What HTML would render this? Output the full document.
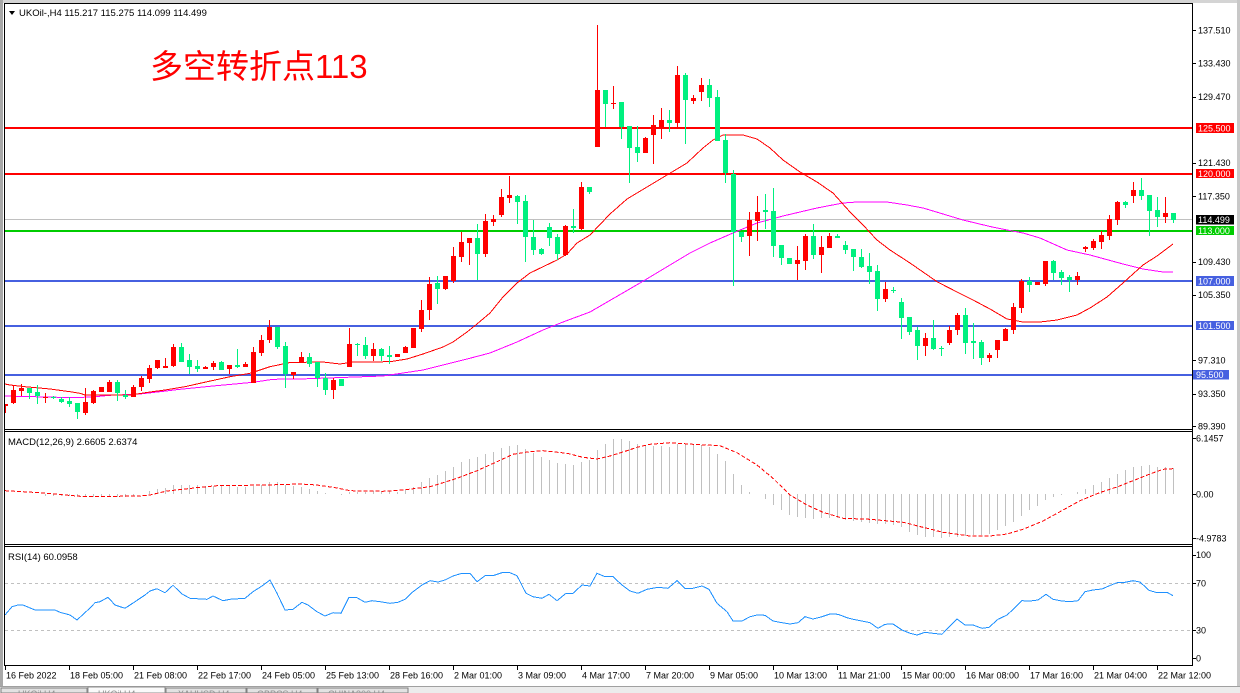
<!DOCTYPE html>
<html><head><meta charset="utf-8"><style>
html,body{margin:0;padding:0;background:#fff;}
svg{display:block;font-family:"Liberation Sans","Noto Sans CJK SC",sans-serif;}
</style></head><body>
<svg id="s" width="1240" height="693" viewBox="0 0 1240 693" xmlns="http://www.w3.org/2000/svg">
<rect x="0" y="0" width="1240" height="693" fill="#fff"/>
<rect x="0" y="0" width="1240" height="3" fill="#d4d4d4"/>
<rect x="0" y="0" width="3" height="693" fill="#a8a8a8"/>
<rect x="1237" y="0" width="3" height="693" fill="#c8c8c8"/>
<defs><clipPath id="cp"><rect x="5" y="4" width="1187" height="425"/></clipPath></defs>
<g id="main" clip-path="url(#cp)" shape-rendering="crispEdges">
<rect x="5" y="219" width="1187" height="1" fill="#c0c0c0"/>
<rect x="5" y="127" width="1187" height="2" fill="#ff0000"/>
<rect x="5" y="173" width="1187" height="2" fill="#ff0000"/>
<rect x="5" y="230" width="1187" height="2" fill="#00cc00"/>
<rect x="5" y="280" width="1187" height="2" fill="#4660e0"/>
<rect x="5" y="325" width="1187" height="2" fill="#4660e0"/>
<rect x="5" y="374" width="1187" height="2" fill="#4660e0"/>
<polyline fill="none" stroke="#ff00ff" stroke-width="1" points="5,396 75,397.7 95,396.7 110,395.3 140,394 160,391.7 180,389.3 213,386 253,382.3 273,379.3 300,379 383,376 403,373 423,370 443,365 467,359 490,353 517,342 543,330 563,322 590,312 640,283 690,253 710,243 733,233 757,223 783,216 817,208 843,203 857,202 887,202 907,205 923,208 943,214 963,220 990,226.5 1007,230 1023,233 1040,238 1067,250 1090,255 1123,264 1143,269 1163,272 1173,272"/>
<polyline fill="none" stroke="#ff0000" stroke-width="1" points="5,384 10,385 25,386.7 50,389 70,391.7 80,393.3 85,395 130,395 135,394.3 150,392 165,390 175,388.3 185,386.7 200,383.3 230,376.7 250,373.3 270,366.7 290,362.5 323,362 340,364 353,362 390,361.7 407,359 423,354 443,347 453,342 467,332 477,324 490,313 503,297 517,283 530,273 557,260 567,254 577,243 590,235 610,214 627,199 647,187 667,175 687,163 703,148 713,140 723,135 743,135 757,139 770,148 783,160 800,172 817,182 833,193 850,212 863,225 877,240 890,250 910,263 923,272 937,281.7 957,292 973,300 990,309 1007,319 1023,322 1040,322 1057,320 1077,315 1090,308 1107,297 1123,283 1143,265 1157,256 1173,244"/>
<g id="candles"></g>
</g>
<text x="150" y="78" font-size="33" fill="#ff0000" font-family="'Liberation Sans','Noto Sans CJK SC',sans-serif">多空转折点113</text>
<polygon points="9,11 15,11 12,15" fill="#000"/>
<text x="19" y="16" font-size="9.5" fill="#000">UKOil-,H4  115.217 115.275 114.099 114.499</text>

<g id="macd" shape-rendering="crispEdges"><g id="bars"></g>
<polyline fill="none" stroke="#ff0000" stroke-width="1" stroke-dasharray="4,2" points="5,490.7 40,492.7 65,495 85,496.7 140,496 150,495 167,491 183,489.3 200,487.3 217,485.7 267,485 300,484 317,485 337,488 350,490.7 383,491.3 403,490 430,486.7 443,482.7 457,478.3 477,470.7 497,461.7 513,454.3 527,452 543,450.7 567,453.3 583,457.3 597,459 610,456 623,452 637,447.3 650,444.3 670,442.7 693,444.3 720,445.7 737,452.7 757,465 773,478.3 790,495 807,505 823,512.3 843,518.3 870,519.3 903,522.3 927,528.3 943,532.3 970,536 990,536 1007,534 1023,529.3 1043,521 1060,511.7 1080,500.7 1100,492.5 1117,487 1133,480.7 1150,474 1163,469.3 1173,468.7"/>
</g>
<text x="8" y="445" font-size="9.5" fill="#000">MACD(12,26,9) 2.6605 2.6374</text>

<g shape-rendering="crispEdges">
<line x1="5" y1="583.5" x2="1192" y2="583.5" stroke="#c0c0c0" stroke-dasharray="3,3"/>
<line x1="5" y1="630.5" x2="1192" y2="630.5" stroke="#c0c0c0" stroke-dasharray="3,3"/>
<polyline fill="none" stroke="#1e90ff" stroke-width="1" points="5,615 12,606.7 18,605 23,605 35,610 55,610 60,612.3 70,615 77,620 90,608 95,602.7 100,601.7 108,597.3 115,605 125,608.3 135,601.7 145,595 150,591 157,588.7 165,592.7 173,585.3 182,594 190,598.3 207,599.3 213,596 223,600.7 230,599.3 245,598.3 253,591.7 262,586 270,580 277,593.3 285,610 293,609.3 302,602.3 308,605 317,611.7 325,616 333,612.7 341,613.3 349,597.3 357,597.7 365,602.3 372,600.7 380,601.7 390,603.3 398,602.3 405,599.3 413,591.7 422,585 430,580.7 438,582 445,580 453,576 462,573.3 470,573.3 477,581.7 485,575.7 493,575.7 502,572.7 510,572.7 517,575.7 526,593.3 533,596.7 542,598.3 549,594.3 557,600.7 566,593.3 573,593.3 582,585 590,586 597,573.3 605,576.7 613,576.7 622,585 630,591 638,593.3 647,589.3 658,587.3 668,588.3 677,580.7 685,588.3 693,588.3 702,586 709,589.3 717,603.3 727,611.7 733,621 742,621 750,616.7 757,615 765,615.3 773,621 782,622.7 790,624 798,622.7 805,616.7 813,619 822,616.7 830,614 838,614.3 847,617.7 853,619.3 862,621 870,622.7 878,628.3 885,624.3 893,624 902,630 910,633.3 917,635 925,632.3 933,633.3 942,634.3 950,626 957,619 965,625 973,625 982,628.3 989,627.3 998,619.3 1007,615 1015,607.7 1022,600.7 1030,601 1038,600 1046,594.3 1053,599.3 1062,601 1070,601.7 1078,600.7 1085,591.7 1093,590 1102,589 1110,585.5 1117,582.7 1125,582.3 1133,580.7 1140,582 1149,590.3 1157,592.7 1167,592.3 1173,595.7"/>
</g>
<text x="8" y="560" font-size="9.5" fill="#000">RSI(14) 60.0958</text>

<g shape-rendering="crispEdges" fill="#000">
<rect x="4" y="3" width="1189" height="1"/>
<rect x="4" y="3" width="1" height="663"/>
<rect x="1192" y="3" width="1" height="663"/>
<rect x="4" y="429" width="1189" height="1"/>
<rect x="4" y="431" width="1189" height="1"/>
<rect x="4" y="544" width="1189" height="1"/>
<rect x="4" y="546" width="1189" height="1"/>
<rect x="4" y="665" width="1189" height="1"/>
</g>
<g id="ticks" shape-rendering="crispEdges"></g>
<g font-size="9" fill="#000" id="axis"></g>

<g shape-rendering="crispEdges">
<rect x="1196" y="123" width="38" height="10" fill="#ff0000"/>
<rect x="1196" y="169" width="38" height="9" fill="#ff0000"/>
<rect x="1196" y="215" width="38" height="9.5" fill="#000"/>
<rect x="1196" y="226" width="38" height="9" fill="#00cc00"/>
<rect x="1196" y="276" width="38" height="10" fill="#4660e0"/>
<rect x="1196" y="321" width="38" height="9" fill="#4660e0"/>
<rect x="1193" y="370" width="36" height="9.5" fill="#4660e0"/>
</g>
<g font-size="9" fill="#fff">
<text x="1198" y="131.5">125.500</text>
<text x="1198" y="177">120.000</text>
<text x="1198" y="223">114.499</text>
<text x="1198" y="234">113.000</text>
<text x="1198" y="284.5">107.000</text>
<text x="1198" y="329">101.500</text>
<text x="1196" y="378">95.500</text>
</g>

<g shape-rendering="crispEdges">
<rect x="0" y="686" width="1240" height="1" fill="#a0a0a0"/>
<rect x="0" y="687" width="1240" height="6" fill="#ececec"/>
<rect x="1" y="688" width="86" height="5" fill="#e2e2e2" stroke="#808080" stroke-width="1"/>
<rect x="88" y="687" width="77" height="6" fill="#fafafa" stroke="#909090" stroke-width="1"/>
<rect x="166" y="688" width="80" height="5" fill="#e2e2e2" stroke="#808080" stroke-width="1"/>
<rect x="247" y="688" width="70" height="5" fill="#e2e2e2" stroke="#808080" stroke-width="1"/>
<rect x="318" y="688" width="90" height="5" fill="#e2e2e2" stroke="#808080" stroke-width="1"/>
</g>
<g font-size="9" fill="#909090">
<text x="18" y="697">UKOil,H4</text>
<text x="98" y="697">UKOil,H4</text>
<text x="178" y="697">XAUUSD,H4</text>
<text x="257" y="697">GBPCS,H4</text>
<text x="328" y="697">CHINA300,H4</text>
</g>
</svg>
<script>
(function(){
var NS="http://www.w3.org/2000/svg";
function el(tag,attrs,parent,txt){var e=document.createElementNS(NS,tag);for(var k in attrs)e.setAttribute(k,attrs[k]);if(txt!==undefined)e.textContent=txt;parent.appendChild(e);return e;}
var D=[
[1,404,406,404,413],[1,390,403,385,404],[1,388,391,384,396],[0,388,393,388,399],[0,392,396,385,404],
[1,397,398,393,403],[0,397,398,396,399],[0,399,402,397,403],[0,401,404,397,407],[0,403,412,403,419],
[1,402,413,388,415],[1,391,403,390,404],[1,387,392,387,392],[1,382,392,380,392],[0,382,393,380,401],
[0,395,397,390,399],[1,387,397,385,397],[1,378,387,376,391],[1,368,379,365,383],[1,360,368,360,369],
[1,366,368,358,368],[1,347,366,344,367],[0,347,362,343,362],[0,360,367,354,374],[0,366,369,360,372],
[1,367,369,366,369],[1,363,367,361,370],[0,362,370,361,370],[1,365,369,365,374],[0,365,367,349,368],
[1,364,367,362,367],[1,352,383,347,383],[1,340,353,335,356],[1,327,340,320,343],[0,327,347,327,349],
[0,346,374,342,388],[1,372,375,372,379],[1,357,362,352,362],[0,357,364,353,367],[0,362,378,362,387],
[0,378,390,373,395],[1,380,390,378,399],[0,379,386,379,386],[1,344,367,328,367],[0,344,345,343,356],
[0,345,356,337,359],[1,349,356,343,361],[0,349,356,348,361],[0,355,357,346,364],[1,354,357,354,357],
[1,347,353,346,353],[1,328,348,328,348],[1,310,329,300,332],[1,284,310,277,320],[0,283,289,276,304],
[1,276,289,276,290],[1,256,281,247,283],[1,242,257,232,262],[1,238,243,238,265],[0,238,254,224,280],
[1,221,254,214,257],[1,219,222,215,226],[1,197,215,189,217],[1,195,198,176,203],[0,196,202,195,224],
[0,201,237,195,262],[0,237,250,220,255],[0,249,254,248,255],[0,227,238,223,246],[0,237,254,234,260],
[1,226,255,225,256],[0,226,228,209,233],[1,187,229,182,230],[0,187,192,187,194],[1,90,147,25,147],
[0,90,104,90,127],[1,103,104,86,109],[0,102,127,102,139],[0,126,148,126,183],[0,147,153,126,162],
[1,138,153,137,153],[1,125,135,115,164],[1,120,127,108,139],[0,120,123,110,132],[1,75,123,66,127],
[0,75,100,73,144],[1,98,101,95,104],[1,85,92,78,101],[0,85,98,79,107],[0,97,141,90,141],
[0,140,173,134,183],[0,174,232,170,286],[0,232,237,232,242],[1,220,236,212,256],[1,212,221,196,241],
[0,210,212,194,229],[0,211,246,188,257],[0,245,258,245,265],[0,258,264,258,264],[1,260,264,246,280],
[1,236,261,234,270],[0,236,255,224,259],[1,247,255,236,273],[1,236,248,233,248],[0,236,238,234,238],
[0,245,250,241,254],[0,249,257,249,271],[0,257,267,249,268],[0,266,272,253,284],[0,271,299,265,311],
[1,289,299,282,302],[0,290,291,287,293],[0,302,318,298,339],[0,317,332,317,335],[0,330,346,327,360],
[1,338,346,333,356],[0,338,349,320,350],[0,348,349,346,356],[1,330,343,326,345],[1,315,330,313,335],
[0,315,343,308,354],[0,341,343,323,359],[0,342,358,340,365],[1,355,358,353,362],[1,340,350,340,358],
[1,329,341,328,341],[1,307,330,303,334],[1,281,308,279,313],[0,281,285,277,292],[1,282,285,282,285],
[1,261,284,261,286],[0,261,273,260,280],[0,272,278,270,285],[0,277,280,275,292],[1,276,280,272,285],
[1,247,249,246,252],[1,241,248,239,250],[1,235,242,231,249],[1,219,236,215,240],[1,202,220,201,225],
[0,202,205,201,208],[1,190,196,182,203],[0,190,196,178,200],[0,195,211,195,236],[0,210,217,197,227],
[1,213,217,197,223],[0,213,220,213,223]];
var cg=document.getElementById('candles');
D.forEach(function(c,i){
  var x=5+8*i,col=c[0]?'#ff0000':'#00f07f';
  el('rect',{x:x,y:c[3],width:1,height:Math.max(1,c[4]-c[3]),fill:col},cg);
  el('rect',{x:x-2,y:c[1],width:5,height:Math.max(1,c[2]-c[1]),fill:col},cg);
});
var B=[[5,494.3],[40,494.5],[45,496],[130,497],[140,494.3],[150,490.7],[157,489],[165,488.3],[173,485],[205,485.5],[229,486],[237,487.3],[245,486.7],[261,485],[269,482.3],[277,482.3],[285,485],[301,487.3],[309,488.7],[317,491],[325,493.3],[333,494.3],[341,495.7],[349,492.3],[365,492],[373,490.7],[389,490.7],[397,491.7],[405,490],[413,487.3],[421,482.7],[429,478.3],[437,475],[445,471],[453,467.3],[461,462.3],[469,459],[477,457.7],[485,454],[493,452.3],[501,448.3],[509,446],[517,445],[525,449],[533,452.7],[541,456.7],[549,460],[557,463.3],[565,464],[573,465],[581,461.7],[589,461],[597,450],[605,444],[613,439.3],[621,439.3],[629,441],[637,444],[645,445],[661,446],[669,447.3],[677,444],[701,445],[709,446.7],[717,453.3],[725,460.7],[733,473.3],[741,485],[749,491.7],[757,493.3],[765,498.3],[773,505],[781,510],[789,515],[797,517.3],[813,519.3],[821,518.3],[837,518.3],[845,520],[853,520.7],[861,521.7],[869,523.3],[885,524.3],[893,525],[901,526.7],[909,531.7],[917,535],[925,536.7],[933,537.3],[941,538.3],[949,537.3],[965,536],[981,535],[989,534],[997,530.7],[1005,526.7],[1013,522.7],[1021,516],[1029,510],[1037,506],[1045,500.7],[1053,496.7],[1061,495],[1069,494.3],[1077,492.7],[1085,489.3],[1093,485],[1101,482],[1109,478.3],[1117,474],[1125,470.3],[1133,467.5],[1141,465.8],[1149,465],[1157,466.7],[1165,467.3],[1173,468.3]];
function interp(P,x){if(x<=P[0][0])return P[0][1];for(var k=1;k<P.length;k++){if(x<=P[k][0]){var a=P[k-1],b=P[k];return a[1]+(b[1]-a[1])*(x-a[0])/(b[0]-a[0]);}}return P[P.length-1][1];}
var bg=document.getElementById('bars'),Z=494;
for(var i=0;i<147;i++){var x=5+8*i,v=Math.round(interp(B,x+0.5));
  if(Math.abs(v-Z)<1)continue;
  var y0=Math.min(v,Z),h=Math.abs(v-Z);
  el('rect',{x:x,y:y0,width:1,height:h,fill:'#c0c0c0'},bg);}
var tg=document.getElementById('ticks'),ag=document.getElementById('axis');
var PT=[["137.510",30.3],["133.430",63.3],["129.470",96.7],["121.430",162.7],["117.350",196],["109.430",261.7],["105.350",294.7],["97.310",360.3],["93.350",393.7],["89.390",426.3],["6.1457",438],["0.00",494],["-4.9783",538.3],["100",554.7],["70",583.3],["30",630.3],["0",658.3]];
PT.forEach(function(p){var y=Math.round(p[1]);el('rect',{x:1193,y:y,width:3,height:1,fill:'#000'},tg);
  el('text',{x:(p[1]>430?1196:1198),y:p[1]+3.3},ag,p[0]);});
var TL=["16 Feb 2022","18 Feb 05:00","21 Feb 08:00","22 Feb 17:00","24 Feb 05:00","25 Feb 13:00","28 Feb 16:00","2 Mar 01:00","3 Mar 09:00","4 Mar 17:00","7 Mar 20:00","9 Mar 05:00","10 Mar 13:00","11 Mar 21:00","15 Mar 00:00","16 Mar 08:00","17 Mar 16:00","21 Mar 04:00","22 Mar 12:00"];
TL.forEach(function(t,k){var x=5+64*k;el('rect',{x:x,y:666,width:1,height:4,fill:'#000'},tg);
  el('text',{x:x+1,y:678.5},ag,t);});
})();
</script>
</body></html>
